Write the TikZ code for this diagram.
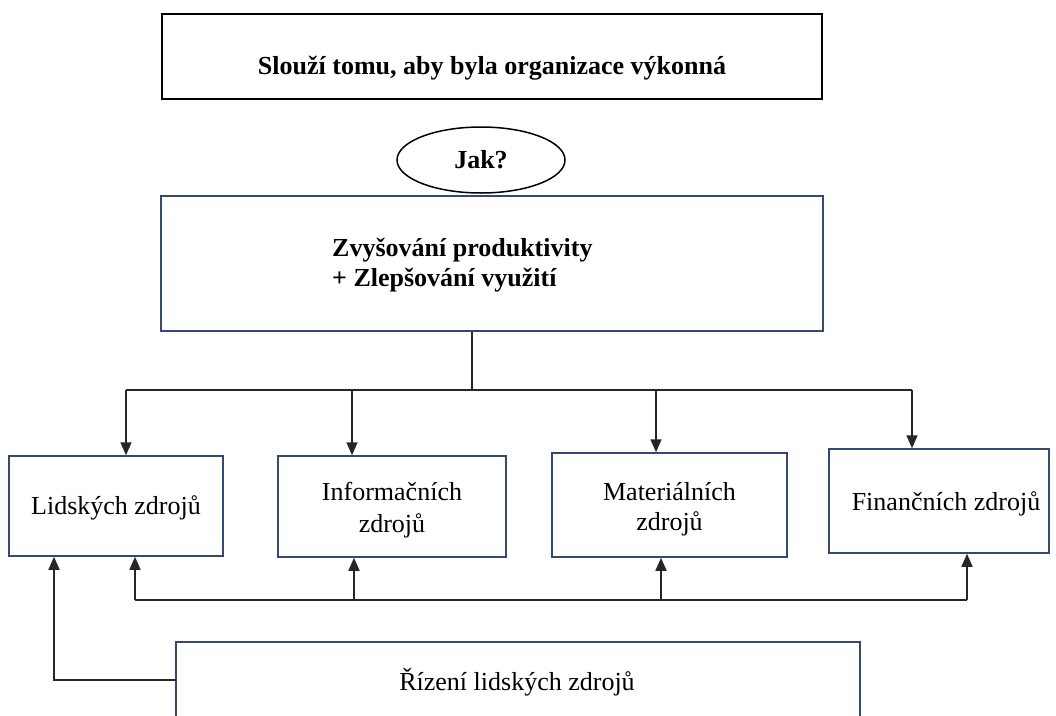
\documentclass[tikz,border=0pt]{standalone}
\usepackage{fontspec}
\setmainfont{Liberation Serif}
\usetikzlibrary{shapes.geometric,arrows.meta}
\definecolor{boxblue}{RGB}{52,72,112}
\tikzset{
  bluebox/.style={draw=boxblue, line width=1.5pt, inner sep=0pt, align=center,
    font=\fontsize{26pt}{32pt}\selectfont},
  blackbox/.style={draw=black, line width=1.5pt, inner sep=0pt},
  boldtxt/.style={font=\fontsize{26pt}{30pt}\selectfont\bfseries, inner sep=0pt},
  conn/.style={draw=black!85, line width=1.6pt},
  arr/.style={conn, -{Triangle[length=13pt,width=11pt]}},
}
\begin{document}
\begin{tikzpicture}[x=1pt,y=-1pt]
\useasboundingbox (0,0) rectangle (1056,715);
% top box
\node[blackbox, minimum width=660pt, minimum height=85pt] (top) at (492,56.5) {};
\node[boldtxt] (toptxt) at (492,68) {Slouží tomu, aby byla organizace výkonná};
% ellipse
\node[blackbox, ellipse, minimum width=168pt, minimum height=66pt, boldtxt, draw] (jak) at (481,160) {Jak?};
% big box
\node[bluebox, minimum width=662pt, minimum height=135pt] (big) at (492,263.5) {};
\node[boldtxt, anchor=west, align=left] (bigtxt) at (332,265) {Zvyšování produktivity\\+ Zlepšování využití};
% resource boxes
\node[bluebox, minimum width=214pt, minimum height=100pt] (lid) at (116,506) {};
\node[font=\fontsize{26pt}{30pt}\selectfont, inner sep=0pt] (lidtxt) at (116,508) {Lidských zdrojů};
\node[bluebox, minimum width=228pt, minimum height=101pt] (inf) at (392,506.5) {};
\node[font=\fontsize{26pt}{32pt}\selectfont, align=center, inner sep=0pt] (inftxt) at (392,510) {Informačních\\zdrojů};
\node[bluebox, minimum width=235pt, minimum height=104pt] (mat) at (669.5,505) {};
\node[font=\fontsize{26pt}{30pt}\selectfont, align=center, inner sep=0pt] (mattxt) at (669.5,509) {Materiálních\\zdrojů};
\node[bluebox, minimum width=220pt, minimum height=104pt] (fin) at (939,501) {};
\node[font=\fontsize{26pt}{30pt}\selectfont, inner sep=0pt] (fintxt) at (946,504) {Finančních zdrojů};
% bottom box (cut off at the lower edge)
\draw[draw=boxblue, line width=1.5pt] (176,725) -- (176,642) -- (860,642) -- (860,725);
\coordinate (botw) at (176,680);
\node[font=\fontsize{26pt}{30pt}\selectfont, inner sep=0pt] (bottxt) at (517,682) {Řízení lidských zdrojů};
% top bus
\coordinate (busmid) at (472,390);
\coordinate (d1) at (126,390);
\coordinate (d2) at (352,390);
\coordinate (d3) at (656,390);
\coordinate (d4) at (912,390);
\draw[conn] (busmid |- big.south) -- (busmid);
\draw[conn] (d1) -- (d4);
\draw[arr] (d1) -- (d1 |- lid.north);
\draw[arr] (d2) -- (d2 |- inf.north);
\draw[arr] (d3) -- (d3 |- mat.north);
\draw[arr] (d4) -- (d4 |- fin.north);
% bottom bus
\coordinate (u1) at (135,600);
\coordinate (u2) at (354,600);
\coordinate (u3) at (661,600);
\coordinate (u4) at (967,600);
\draw[conn] (u1) -- (u4);
\draw[arr] (u1) -- (u1 |- lid.south);
\draw[arr] (u2) -- (u2 |- inf.south);
\draw[arr] (u3) -- (u3 |- mat.south);
\draw[arr] (u4) -- (u4 |- fin.south);
% left feedback
\coordinate (lft) at (54,680);
\draw[arr] (botw) -- (lft) -- (lft |- lid.south);
\end{tikzpicture}
\end{document}
